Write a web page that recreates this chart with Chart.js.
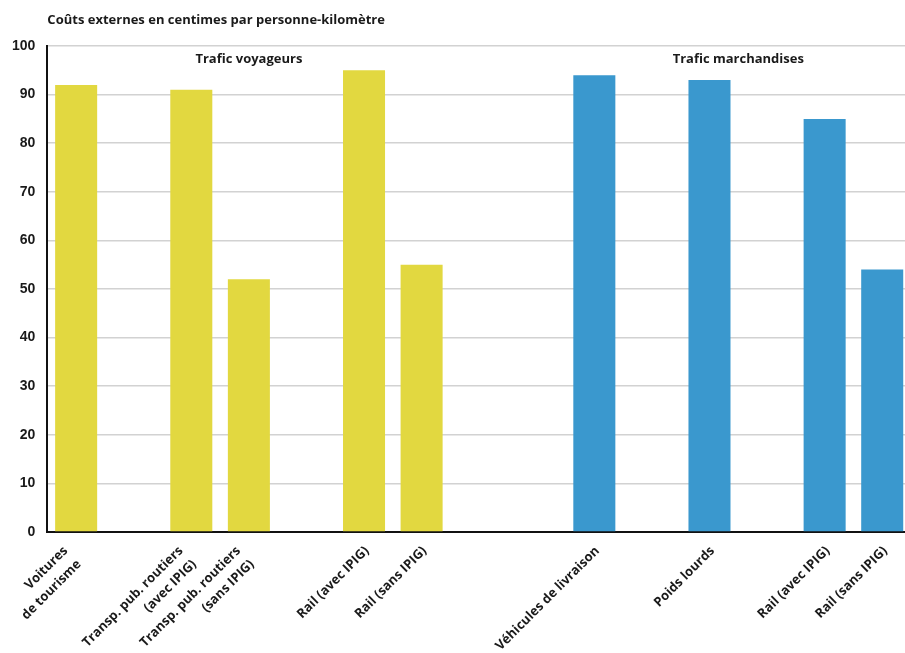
<!DOCTYPE html>
<html lang="fr">
<head>
<meta charset="utf-8">
<title>Coûts externes</title>
<script src="https://cdn.jsdelivr.net/npm/chart.js@4"></script>
<style>
  html, body { margin: 0; padding: 0; background: #fff; overflow: hidden; }
</style>
</head>
<body>
<canvas id="costChart" width="911" height="653"></canvas>
<script>
// Empty strings leave gaps between the bar groups
const categories = [
  ["Voitures", "de tourisme"],
  "",
  ["Transp. pub. routiers", "(avec IPIG)"],
  ["Transp. pub. routiers", "(sans IPIG)"],
  "",
  "Rail (avec IPIG)",
  "Rail (sans IPIG)",
  "",
  "",
  "Véhicules de livraison",
  "",
  "Poids lourds",
  "",
  "Rail (avec IPIG)",
  "Rail (sans IPIG)"
];
const costs = [92, null, 91, 52, null, 95, 55, null, null, 94, null, 93, null, 85, 54];
const groups = ["voyageurs", "", "voyageurs", "voyageurs", "", "voyageurs", "voyageurs", "", "",
  "marchandises", "", "marchandises", "", "marchandises", "marchandises"];
const yTicks = [0, 10, 20, 30, 40, 50, 60, 70, 80, 90, 100];

const groupTitles = [
  { text: "Trafic voyageurs", from: 0, to: 6 },
  { text: "Trafic marchandises", from: 9, to: 14 }
];
const chartTitle = "Coûts externes en centimes par personne-kilomètre";

const colors = { voyageurs: "#e2d840", marchandises: "#3a98ce", "": "#ffffff" };
const labelFont = "Open Sans";
const labelSize = 13;
const labelLine = 19;

// title and the two group headings
const headings = {
  id: "headings",
  afterDraw(chart) {
    const { ctx, chartArea, scales } = chart;
    ctx.save();
    ctx.fillStyle = "#1a1a1a";
    ctx.textBaseline = "middle";
    ctx.font = "bold " + labelSize + "px " + labelFont;
    ctx.textAlign = "left";
    ctx.fillText(chartTitle, chartArea.left, 20);
    ctx.textAlign = "center";
    groupTitles.forEach(g => {
      const x = (scales.x.getPixelForValue(g.from) + scales.x.getPixelForValue(g.to)) / 2;
      ctx.fillText(g.text, x, 59);
    });
    ctx.restore();
  }
};

// two-line labels: slide the block left so its last line ends where a one-line label would
const labelShift = {
  id: "labelShift",
  beforeDraw(chart) {
    chart.scales.x.getLabelItems().forEach(item => {
      if (Array.isArray(item.label) && !item.shifted) {
        item.options.translation[0] -= (item.label.length - 1) * labelLine * Math.SQRT1_2;
        item.shifted = true;
      }
    });
  }
};

new Chart(document.getElementById("costChart"), {
  type: "bar",
  data: {
    labels: categories,
    datasets: [{
      data: costs,
      backgroundColor: groups.map(g => colors[g]),
      barPercentage: 0.73,
      categoryPercentage: 1
    }]
  },
  options: {
    responsive: false,
    animation: false,
    layout: { padding: { top: 46, left: 0, right: 0, bottom: 0 } },
    plugins: {
      legend: { display: false },
      tooltip: { enabled: false }
    },
    scales: {
      x: {
        // rotated labels may hang past the left edge; keep the plot where it is
        afterFit(scale) {
          scale.paddingLeft = 0;
          scale.paddingRight = 0;
          scale.height = 121;
        },
        grid: { display: false },
        border: { color: "#111", width: 2 },
        ticks: {
          autoSkip: false,
          maxRotation: 45,
          minRotation: 45,
          padding: 2,
          labelOffset: 3,
          color: "#1a1a1a",
          font: { family: labelFont, weight: "bold", size: labelSize, lineHeight: labelLine + "px" }
        }
      },
      y: {
        min: 0,
        max: 100,
        afterBuildTicks(axis) {
          axis.ticks = yTicks.map(v => ({ value: v }));
        },
        grid: { color: "#d2d2d2", lineWidth: 1.5, drawTicks: false },
        border: { color: "#111", width: 2 },
        ticks: {
          padding: 12,
          color: "#1a1a1a",
          font: { family: "Liberation Sans", weight: "bold", size: 14 }
        }
      }
    }
  },
  plugins: [headings, labelShift]
});
</script>
</body>
</html>
